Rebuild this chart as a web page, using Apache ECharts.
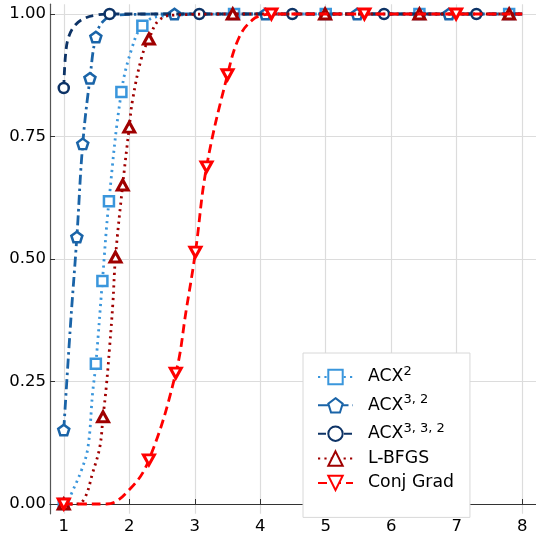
<!DOCTYPE html>
<html><head><meta charset="utf-8">
<script src="https://cdn.jsdelivr.net/npm/echarts@6/dist/echarts.min.js"></script>
<style>html,body{margin:0;padding:0;background:#fff}#c{width:536px;height:536px}</style>
</head><body><div id="c"></div>
<script>
// ---- tick labels ----
const xTicks = [1, 2, 3, 4, 5, 6, 7, 8];
const yTicks = [0, 0.25, 0.5, 0.75, 1];

// ---- series names (legend keys) ----
const names = ['ACX2', 'ACX32', 'ACX332', 'L-BFGS', 'Conj Grad'];

// ---- ACX^2 : curve shape points and marker points ----
const acx2Line  = [[1.06, 0.004], [1.12, 0.022], [1.27, 0.069], [1.37, 0.116], [1.44, 0.226], [2.04, 0.93], [2.45, 0.995], [8, 1]];
const acx2Marks = [[1, 0], [1.49, 0.286], [1.59, 0.455], [1.69, 0.618], [1.88, 0.841], [2.2, 0.976], [3.6, 1], [5.0, 1], [6.43, 1], [7.8, 1]];

// ---- ACX^{3,2} ----
const acx32Line  = [[1.1, 0.36], [1.6, 0.985], [1.8, 0.998], [8, 1]];
const acx32Marks = [[1, 0.151], [1.2, 0.545], [1.29, 0.735], [1.4, 0.869], [1.49, 0.953], [2.69, 1], [4.08, 1], [5.48, 1], [6.88, 1]];

// ---- ACX^{3,3,2} ----
const acx332Line  = [[1.03, 0.92], [1.08, 0.955], [1.18, 0.978], [1.33, 0.992], [1.5, 0.998], [8, 1]];
const acx332Marks = [[1, 0.849], [1.7, 1], [3.07, 1], [4.49, 1], [5.89, 1], [7.3, 1]];

// ---- L-BFGS ----
const lbfgsLine  = [[1.2, 0], [1.32, 0.012], [1.44, 0.063], [1.55, 0.116], [1.65, 0.24], [1.7, 0.32], [1.75, 0.41], [2.05, 0.824], [2.19, 0.912], [2.46, 0.988], [2.72, 0.998], [8, 1]];
const lbfgsMarks = [[1, 0], [1.6, 0.178], [1.79, 0.504], [1.9, 0.651], [2.0, 0.769], [2.3, 0.949], [3.58, 1], [4.99, 1], [6.43, 1], [7.8, 1]];

// ---- Conj Grad ----
const cgLine  = [[1.3, 0], [1.65, 0], [2.0, 0.029], [2.87, 0.396], [3.68, 0.953], [3.88, 0.988], [4.05, 0.998], [8, 1]];
const cgMarks = [[1, 0], [2.3, 0.09], [2.71, 0.267], [3.01, 0.514], [3.18, 0.688], [3.5, 0.876], [4.17, 1], [5.59, 1], [6.99, 1]];

const FONT = 'DejaVu Sans';
const pentagon = 'path://M50,0 L97.55,34.55 L79.39,90.45 L20.61,90.45 L2.45,34.55 Z';
const triDown = 'path://M0,0 L100,0 L50,87 Z';

function build(line, marks) {
  const pts = line.map(p => ({ value: p, symbol: 'none' }))
    .concat(marks.map(p => ({ value: p })));
  pts.sort((a, b) => a.value[0] - b.value[0]);
  return pts;
}

const styles = [
  { data: build(acx2Line, acx2Marks), color: '#3a96dc', type: [2.2, 4.2], symbol: 'rect', size: 10, bw: 2.5 },
  { data: build(acx32Line, acx32Marks), color: '#1a64a8', type: [10, 4, 2.5, 4], symbol: pentagon, size: [11, 10.5], bw: 2.5 },
  { data: build(acx332Line, acx332Marks), color: '#0d3366', type: [8, 5], symbol: 'circle', size: 10, bw: 2.5 },
  { data: build(lbfgsLine, lbfgsMarks), color: '#a00000', type: [2.2, 4.2], symbol: 'triangle', size: [11, 10], bw: 3 },
  { data: build(cgLine, cgMarks), color: '#ff0000', type: [9, 5], symbol: triDown, size: [11, 10], bw: 3 }
];

const legendText = {
  'ACX2': '{a|ACX}{s|2}',
  'ACX32': '{a|ACX}{s|3, 2}',
  'ACX332': '{a|ACX}{s|3, 3, 2}',
  'L-BFGS': '{a|L-BFGS}',
  'Conj Grad': '{a|Conj Grad}'
};

const chart = echarts.init(document.getElementById('c'), null, { renderer: 'canvas' });
chart.setOption({
  animation: false,
  backgroundColor: '#fff',
  grid: { left: 50, top: 4.2, width: 486.5, height: 509.6, containLabel: false },
  xAxis: {
    type: 'value', min: 0.79, max: 8.21,
    axisLine: { show: true, lineStyle: { color: '#333', width: 1.2 } },
    axisTick: { show: true, inside: true, length: 5, customValues: xTicks, lineStyle: { color: '#333' } },
    axisLabel: { customValues: xTicks, fontFamily: FONT, fontSize: 16.5, color: '#000', margin: 4 },
    splitLine: { show: true, lineStyle: { color: '#dcdcdc', width: 1.2 } }
  },
  yAxis: {
    type: 'value', min: -0.02, max: 1.02,
    axisLine: { show: true, lineStyle: { color: '#555', width: 1.2 } },
    axisTick: { show: true, inside: true, length: 5, customValues: yTicks, lineStyle: { color: '#333' } },
    axisLabel: { customValues: yTicks, fontFamily: FONT, fontSize: 16.5, color: '#000', margin: 4,
      formatter: v => v.toFixed(2) },
    splitLine: { show: true, lineStyle: { color: '#dcdcdc', width: 1.2 } }
  },
  legend: {
    orient: 'vertical', left: 303, top: 353,
    padding: [12, 16, 26, 14], itemGap: 7.35,
    itemWidth: 35, itemHeight: 18,
    backgroundColor: '#fff', borderColor: '#d8d8d8', borderWidth: 1,
    data: names,
    formatter: n => legendText[n],
    textStyle: {
      fontFamily: FONT, color: '#000',
      rich: {
        a: { fontFamily: FONT, fontSize: 17.3, lineHeight: 18, padding: [0, 0, 0, 10], color: '#000' },
        s: { fontFamily: FONT, fontSize: 13, lineHeight: 10, padding: [0, 0, 8, 0], verticalAlign: 'bottom', color: '#000' }
      }
    }
  },
  series: styles.map((s, i) => ({
    name: names[i],
    type: 'line',
    data: s.data,
    smooth: 0.4,
    clip: false,
    showSymbol: true,
    showAllSymbol: true,
    symbol: s.symbol,
    symbolSize: s.size,
    lineStyle: { color: s.color, width: 2.8, type: s.type, cap: 'butt' },
    itemStyle: { color: '#fff', borderColor: s.color, borderWidth: s.bw },
    emphasis: { disabled: true },
    z: 2 + i
  }))
});
</script></body></html>
